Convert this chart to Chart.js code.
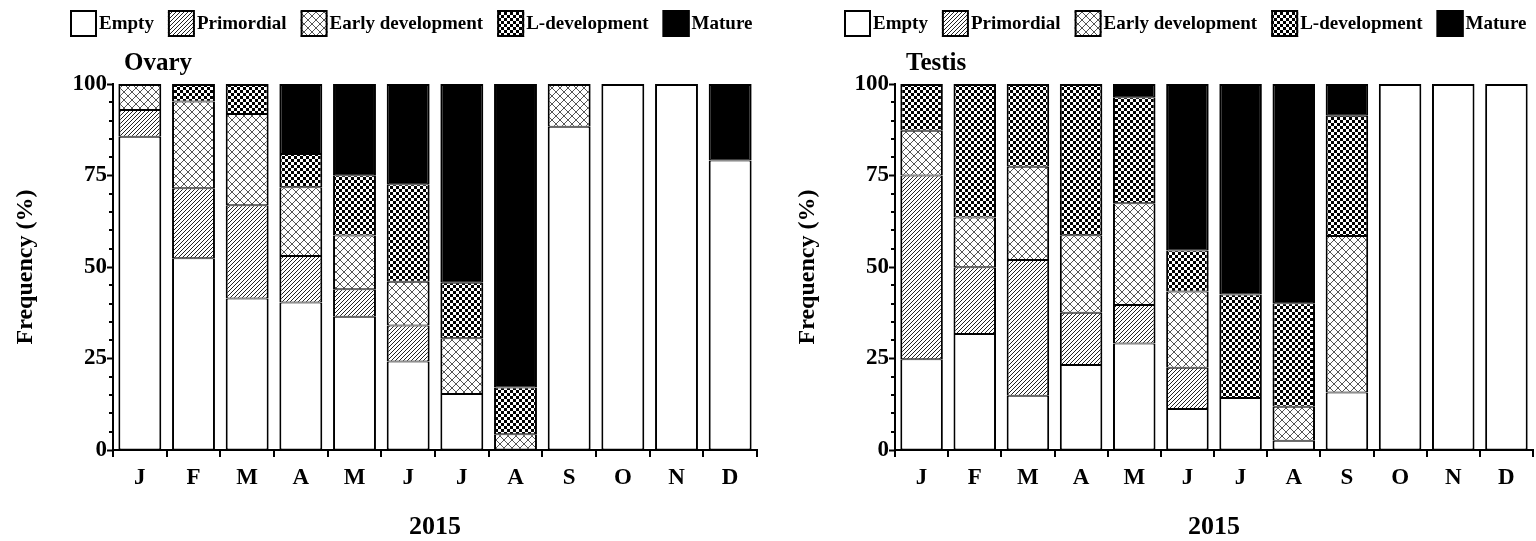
<!DOCTYPE html>
<html>
<head>
<meta charset="utf-8">
<script src="https://cdn.jsdelivr.net/npm/chart.js@4.4.1/dist/chart.umd.min.js"></script>
<style>
  html, body { margin: 0; padding: 0; background: #fff; }
  body { width: 1536px; height: 541px; position: relative; overflow: hidden; }
  .panel { position: absolute; top: 0; height: 541px; }
  #ovaryBox { left: 0; width: 770px; }
  #testisBox { left: 782px; width: 754px; }
</style>
</head>
<body>
<div class="panel" id="ovaryBox"><canvas id="ovary"></canvas></div>
<div class="panel" id="testisBox"><canvas id="testis"></canvas></div>
<script>
// Monthly gonad stage frequencies (%), 2015
const months = ['J', 'F', 'M', 'A', 'M', 'J', 'J', 'A', 'S', 'O', 'N', 'D'];
const stageNames = ['Empty', 'Primordial', 'Early development', 'L-development', 'Mature'];
const panelTitles = ['Ovary', 'Testis'];
const yearLabel = '2015';
const yAxisLabel = 'Frequency (%)';
const yMajorTicks = [0, 25, 50, 75, 100];

const ovaryEmpty      = [85.6, 52.4, 41.4, 40.3, 36.4, 24.2, 15.3, 0,    88.3, 100, 100, 79.1];
const ovaryPrimordial = [7.3,  19.1, 25.5, 12.7, 7.5,  9.8,  0,    0,    0,    0,   0,   0];
const ovaryEarly      = [7.1,  23.7, 24.9, 18.8, 14.7, 12.0, 15.2, 4.3,  11.7, 0,   0,   0];
const ovaryLdev       = [0,    4.8,  8.2,  9.1,  16.5, 26.6, 15.2, 12.8, 0,    0,   0,   0];
const ovaryMature     = [0,    0,    0,    19.1, 24.9, 27.4, 54.3, 82.9, 0,    0,   0,   20.9];

const testisEmpty      = [24.8, 31.7, 14.8, 23.2, 29.1, 11.2, 14.2, 2.5,  15.7, 100, 100, 100];
const testisPrimordial = [50.2, 18.2, 37.1, 14.3, 10.5, 11.3, 0,    0,    0,    0,   0,   0];
const testisEarly      = [12.2, 13.6, 25.5, 21.2, 27.8, 20.8, 0,    9.3,  42.8, 0,   0,   0];
const testisLdev       = [12.8, 36.5, 22.6, 41.3, 29.0, 11.2, 28.3, 28.3, 32.8, 0,   0,   0];
const testisMature     = [0,    0,    0,    0,    3.6,  45.5, 57.5, 59.9, 8.7,  0,   0,   0];

const serif = "'Liberation Serif', 'Times New Roman', serif";

// Fill patterns for the stage categories
function tile(size, draw) {
  const c = document.createElement('canvas');
  c.width = c.height = size;
  const g = c.getContext('2d');
  g.fillStyle = '#fff';
  g.fillRect(0, 0, size, size);
  draw(g, size);
  return c;
}
function stageFills(ctx) {
  const hatch = ctx.createPattern(tile(4, (g, s) => {
    g.strokeStyle = '#222'; g.lineWidth = 1;
    g.beginPath();
    g.moveTo(-1, s + 1); g.lineTo(s + 1, -1);
    g.moveTo(-1, 1); g.lineTo(1, -1);
    g.moveTo(s - 1, s + 1); g.lineTo(s + 1, s - 1);
    g.stroke();
  }), 'repeat');
  const cross = ctx.createPattern(tile(8, (g, s) => {
    g.strokeStyle = '#555'; g.lineWidth = 1;
    g.beginPath();
    g.moveTo(0, 0); g.lineTo(s, s);
    g.moveTo(0, s); g.lineTo(s, 0);
    g.stroke();
  }), 'repeat');
  const checker = ctx.createPattern(tile(6, (g) => {
    g.fillStyle = '#000';
    g.fillRect(0, 0, 3, 3);
    g.fillRect(3, 3, 3, 3);
  }), 'repeat');
  return ['#ffffff', hatch, cross, checker, '#000000'];
}

// Legend row and panel title
const stageLegend = {
  id: 'stageLegend',
  afterDraw(chart, args, opts) {
    const ctx = chart.ctx;
    ctx.save();
    ctx.font = 'bold 19px ' + serif;
    ctx.textBaseline = 'middle';
    ctx.textAlign = 'left';
    const box = 27;
    let x = opts.x;
    const y = opts.y;
    chart.data.datasets.forEach(ds => {
      ctx.fillStyle = ds.backgroundColor;
      ctx.fillRect(x, y, box, box);
      ctx.lineWidth = 2;
      ctx.strokeStyle = '#000';
      ctx.strokeRect(x + 1, y + 1, box - 2, box - 2);
      ctx.fillStyle = '#000';
      ctx.fillText(ds.label, x + box + 2, y + box / 2 + 1);
      x += box + 2 + ctx.measureText(ds.label).width + 14;
    });
    ctx.font = 'bold 25px ' + serif;
    ctx.textBaseline = 'alphabetic';
    ctx.fillText(opts.title, chart.chartArea.left + 11, opts.titleY);
    ctx.restore();
  }
};

// Short minor ticks on the value axis
const minorTicks = {
  id: 'minorTicks',
  afterDraw(chart) {
    const ctx = chart.ctx;
    const y = chart.scales.y;
    const x0 = chart.chartArea.left;
    ctx.save();
    ctx.strokeStyle = '#000';
    ctx.lineWidth = 2;
    y.ticks.forEach(t => {
      if (yMajorTicks.includes(t.value)) return;
      const py = Math.round(y.getPixelForValue(t.value));
      ctx.beginPath();
      ctx.moveTo(x0 - 4, py);
      ctx.lineTo(x0, py);
      ctx.stroke();
    });
    ctx.restore();
  }
};

function segmentBorder(c) {
  const above = c.chart.data.datasets.slice(c.datasetIndex + 1);
  const isTop = above.every(d => !d.data[c.dataIndex]);
  return { left: 2, right: 2, top: isTop ? 2 : 1, bottom: 1 };
}

function buildPanel(id, series, legendX, title, rightPad) {
  const canvas = document.getElementById(id);
  const fills = stageFills(canvas.getContext('2d'));
  const bold = size => ({ family: serif, weight: 'bold', size });
  return new Chart(canvas, {
    type: 'bar',
    data: {
      labels: months,
      datasets: series.map((values, i) => ({
        label: stageNames[i],
        data: values,
        backgroundColor: fills[i],
        borderColor: '#000',
        borderWidth: segmentBorder,
        borderSkipped: false,
        barPercentage: 0.8,
        categoryPercentage: 1
      }))
    },
    options: {
      responsive: true,
      maintainAspectRatio: false,
      animation: false,
      devicePixelRatio: 1,
      layout: { padding: { top: 84, right: rightPad, left: 0, bottom: 0 } },
      plugins: {
        legend: { display: false },
        tooltip: { enabled: false },
        stageLegend: { x: legendX, y: 10, title: title, titleY: 70 }
      },
      scales: {
        x: {
          stacked: true,
          grid: { drawOnChartArea: false, drawTicks: true, tickLength: 7, color: '#000', lineWidth: 2, offset: true },
          border: { display: true, color: '#000', width: 2 },
          ticks: { color: '#000', font: bold(23), padding: 7, maxRotation: 0, autoSkip: false },
          title: { display: true, text: yearLabel, color: '#000', font: bold(26), padding: { top: 0, bottom: -2 } },
          afterFit(scale) { scale.height = 91; }
        },
        y: {
          stacked: true,
          min: 0,
          max: 100,
          ticks: {
            stepSize: 5,
            autoSkip: false,
            color: '#000',
            font: bold(23),
            padding: 0,
            callback: v => (yMajorTicks.includes(v) ? v : '')
          },
          grid: {
            drawOnChartArea: false,
            tickLength: 6,
            tickWidth: 2,
            tickColor: c => (yMajorTicks.includes(c.tick.value) ? '#000' : 'rgba(0,0,0,0)')
          },
          border: { display: true, color: '#000', width: 2 },
          title: { display: true, text: yAxisLabel, color: '#000', font: bold(24), padding: { top: 11, bottom: 0 } },
          afterFit(scale) { scale.width = 113; }
        }
      }
    },
    plugins: [stageLegend, minorTicks]
  });
}

buildPanel('ovary', [ovaryEmpty, ovaryPrimordial, ovaryEarly, ovaryLdev, ovaryMature], 70, panelTitles[0], 13);
buildPanel('testis', [testisEmpty, testisPrimordial, testisEarly, testisLdev, testisMature], 62, panelTitles[1], 3);
</script>
</body>
</html>
